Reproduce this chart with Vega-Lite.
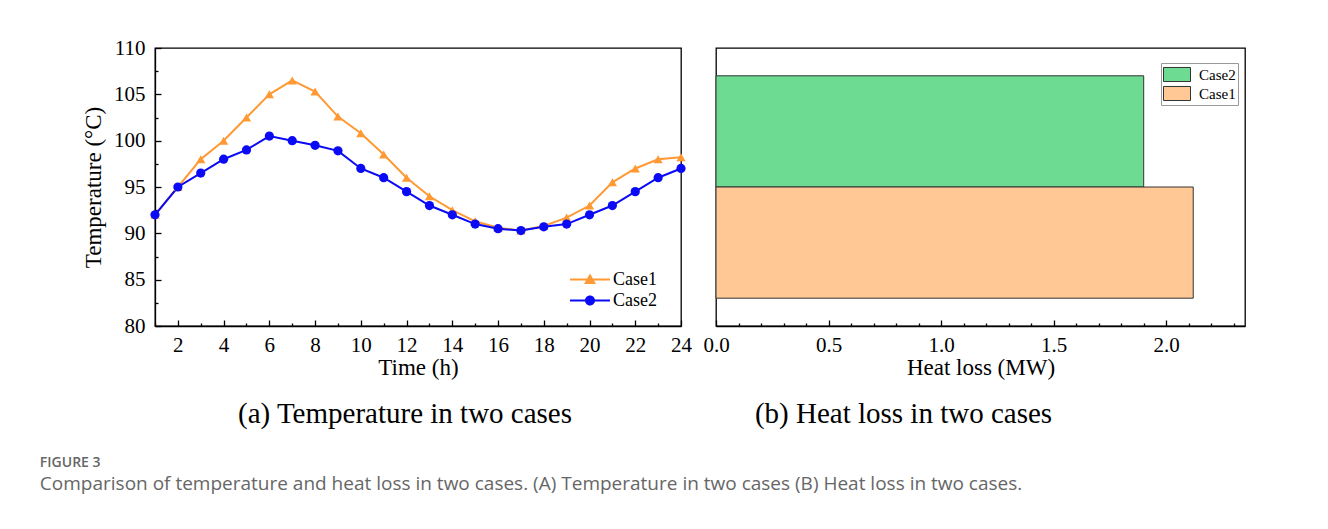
{
  "$schema": "https://vega.github.io/schema/vega-lite/v6.json",
  "background": "white",
  "padding": {"left": 39, "top": 36, "right": 0, "bottom": 0},
  "bounds": "flush",
  "spacing": 35,
  "resolve": {"scale": {"color": "independent", "shape": "independent"}, "legend": {"color": "independent", "shape": "independent"}},
  "datasets": {
    "temps": [
      {"t": 1, "case": "Case1", "temp": 92}, {"t": 2, "case": "Case1", "temp": 95}, {"t": 3, "case": "Case1", "temp": 98},
      {"t": 4, "case": "Case1", "temp": 100}, {"t": 5, "case": "Case1", "temp": 102.5}, {"t": 6, "case": "Case1", "temp": 105},
      {"t": 7, "case": "Case1", "temp": 106.5}, {"t": 8, "case": "Case1", "temp": 105.3}, {"t": 9, "case": "Case1", "temp": 102.6},
      {"t": 10, "case": "Case1", "temp": 100.8}, {"t": 11, "case": "Case1", "temp": 98.5}, {"t": 12, "case": "Case1", "temp": 96},
      {"t": 13, "case": "Case1", "temp": 94}, {"t": 14, "case": "Case1", "temp": 92.5}, {"t": 15, "case": "Case1", "temp": 91.3},
      {"t": 16, "case": "Case1", "temp": 90.6}, {"t": 17, "case": "Case1", "temp": 90.3}, {"t": 18, "case": "Case1", "temp": 90.8},
      {"t": 19, "case": "Case1", "temp": 91.7}, {"t": 20, "case": "Case1", "temp": 93}, {"t": 21, "case": "Case1", "temp": 95.5},
      {"t": 22, "case": "Case1", "temp": 97}, {"t": 23, "case": "Case1", "temp": 98}, {"t": 24, "case": "Case1", "temp": 98.2},
      {"t": 1, "case": "Case2", "temp": 92}, {"t": 2, "case": "Case2", "temp": 95}, {"t": 3, "case": "Case2", "temp": 96.5},
      {"t": 4, "case": "Case2", "temp": 98}, {"t": 5, "case": "Case2", "temp": 99}, {"t": 6, "case": "Case2", "temp": 100.5},
      {"t": 7, "case": "Case2", "temp": 100}, {"t": 8, "case": "Case2", "temp": 99.5}, {"t": 9, "case": "Case2", "temp": 98.9},
      {"t": 10, "case": "Case2", "temp": 97}, {"t": 11, "case": "Case2", "temp": 96}, {"t": 12, "case": "Case2", "temp": 94.5},
      {"t": 13, "case": "Case2", "temp": 93}, {"t": 14, "case": "Case2", "temp": 92}, {"t": 15, "case": "Case2", "temp": 91},
      {"t": 16, "case": "Case2", "temp": 90.5}, {"t": 17, "case": "Case2", "temp": 90.3}, {"t": 18, "case": "Case2", "temp": 90.7},
      {"t": 19, "case": "Case2", "temp": 91}, {"t": 20, "case": "Case2", "temp": 92}, {"t": 21, "case": "Case2", "temp": 93},
      {"t": 22, "case": "Case2", "temp": 94.5}, {"t": 23, "case": "Case2", "temp": 96}, {"t": 24, "case": "Case2", "temp": 97}
    ],
    "heat": [
      {"case": "Case2", "loss": 1.9},
      {"case": "Case1", "loss": 2.12}
    ]
  },
  "title": {
    "text": "FIGURE 3",
    "subtitle": "Comparison of temperature and heat loss in two cases. (A) Temperature in two cases (B) Heat loss in two cases.",
    "orient": "bottom",
    "anchor": "start",
    "font": "Open Sans",
    "fontSize": 14,
    "fontWeight": 600,
    "color": "#666666",
    "subtitleFont": "Open Sans",
    "subtitleFontSize": 19,
    "subtitleColor": "#666666",
    "subtitlePadding": 5,
    "offset": 26,
    "dx": -42,
    "limit": 0
  },
  "hconcat": [
    {
      "width": 526,
      "height": 278,
      "title": {"text": "(a) Temperature in two cases", "orient": "bottom", "fontSize": 29, "fontWeight": "normal", "font": "Liberation Serif", "color": "#000", "offset": 21, "dx": -13},
      "data": {"name": "temps"},
      "layer": [
        {
          "transform": [{"filter": "datum.case === 'Case1'"}],
          "mark": {"type": "line", "strokeWidth": 2, "color": "#FF9933"},
          "encoding": {
            "x": {"field": "t", "type": "quantitative", "scale": {"domain": [1, 24], "nice": false, "zero": false},
                  "axis": {"orient": "bottom", "values": [2, 4, 6, 8, 10, 12, 14, 16, 18, 20, 22, 24], "title": "Time (h)", "tickSize": -6, "labelPadding": 14, "titlePadding": 1}},
            "y": {"field": "temp", "type": "quantitative", "scale": {"domain": [80, 110], "nice": false, "zero": false},
                  "axis": {"orient": "left", "values": [80, 85, 90, 95, 100, 105, 110], "title": "Temperature (°C)", "tickSize": -6, "labelPadding": 16, "titlePadding": 8}}
          }
        },
        {
          "transform": [{"filter": "datum.case === 'Case2'"}],
          "mark": {"type": "line", "strokeWidth": 2, "color": "#0A0AF5"},
          "encoding": {
            "x": {"field": "t", "type": "quantitative", "axis": null},
            "y": {"field": "temp", "type": "quantitative", "axis": null}
          }
        },
        {
          "transform": [{"filter": "datum.case === 'Case1'"}],
          "mark": {"type": "point", "filled": true, "size": 85, "opacity": 1, "shape": "triangle-up", "color": "#FF9933"},
          "encoding": {
            "x": {"field": "t", "type": "quantitative",
                  "axis": {"orient": "bottom", "values": [1, 3, 5, 7, 9, 11, 13, 15, 17, 19, 21, 23], "labels": false, "title": null, "domain": false, "tickSize": -3}},
            "y": {"field": "temp", "type": "quantitative",
                  "axis": {"orient": "left", "values": [82.5, 87.5, 92.5, 97.5, 102.5, 107.5], "labels": false, "title": null, "domain": false, "tickSize": -3}}
          }
        },
        {
          "transform": [{"filter": "datum.case === 'Case2'"}],
          "mark": {"type": "point", "filled": true, "size": 85, "opacity": 1, "shape": "circle", "color": "#0A0AF5"},
          "encoding": {
            "x": {"field": "t", "type": "quantitative", "axis": null},
            "y": {"field": "temp", "type": "quantitative", "axis": null}
          }
        },
        {
          "mark": {"type": "point", "filled": true, "size": 0, "opacity": 1},
          "encoding": {
            "x": {"field": "t", "type": "quantitative", "axis": null},
            "y": {"field": "temp", "type": "quantitative", "axis": null},
            "color": {"field": "case", "type": "nominal", "scale": {"domain": ["Case1", "Case2"], "range": ["#FF9933", "#0A0AF5"]},
                      "legend": {
                        "title": null, "orient": "none", "legendX": 414, "legendY": 221,
                        "symbolSize": 1600, "clipHeight": 21, "rowPadding": 0, "labelOffset": 2, "symbolOpacity": 1,
                        "labelFontSize": 18, "labelFont": "Liberation Serif", "labelColor": "#000"
                      }},
            "shape": {"field": "case", "type": "nominal",
                      "scale": {"domain": ["Case1", "Case2"], "range": ["M-1,-0.05H1V0.05H-1ZM0,-0.3L0.3,0.22L-0.3,0.22Z", "M-1,-0.05H1V0.05H-1ZM-0.25,0A0.25,0.25 0 1,1 0.25,0A0.25,0.25 0 1,1 -0.25,0Z"]},
                      "legend": null}
          }
        }
      ],
      "resolve": {"axis": {"x": "independent", "y": "independent"}}
    },
    {
      "width": 529,
      "height": 278,
      "title": {"text": "(b) Heat loss in two cases", "orient": "bottom", "fontSize": 29, "fontWeight": "normal", "font": "Liberation Serif", "color": "#000", "offset": 21, "dx": -77},
      "data": {"name": "heat"},
      "layer": [
        {
          "mark": {"type": "bar", "stroke": "#333333", "strokeWidth": 1},
          "encoding": {
            "x": {"field": "loss", "type": "quantitative", "scale": {"domain": [0, 2.35], "nice": false},
                  "axis": {"orient": "bottom", "values": [0, 0.5, 1, 1.5, 2], "format": ".1f", "title": "Heat loss (MW)", "tickSize": -6, "labelPadding": 14, "titlePadding": 1}},
            "y": {"field": "case", "type": "nominal", "sort": ["Case2", "Case1"], "scale": {"domain": ["Case2", "Case1"], "paddingInner": 0, "paddingOuter": 0.25}, "axis": null},
            "color": {"field": "case", "type": "nominal", "scale": {"domain": ["Case2", "Case1"], "range": ["#6DDC92", "#FFC894"]},
                      "legend": {
                        "title": null, "orient": "none", "legendX": 445, "legendY": 15,
                        "strokeColor": "#999999", "padding": 2,
                        "symbolType": "M-1,-0.52H1V0.52H-1Z", "symbolSize": 729, "clipHeight": 19, "rowPadding": 0,
                        "symbolStrokeColor": "#333333", "symbolStrokeWidth": 1, "symbolOpacity": 1,
                        "labelOffset": 8, "labelFontSize": 15, "labelFont": "Liberation Serif", "labelColor": "#000"
                      }}
          }
        },
        {
          "mark": {"type": "rule", "opacity": 0},
          "encoding": {
            "x": {"field": "loss", "type": "quantitative",
                  "axis": {"orient": "bottom", "values": [0.1, 0.2, 0.3, 0.4, 0.6, 0.7, 0.8, 0.9, 1.1, 1.2, 1.3, 1.4, 1.6, 1.7, 1.8, 1.9, 2.1, 2.2, 2.3], "labels": false, "title": null, "domain": false, "tickSize": -3}}
          }
        }
      ],
      "resolve": {"axis": {"x": "independent"}}
    }
  ],
  "config": {
    "font": "Liberation Serif",
    "view": {"stroke": "#000000", "strokeWidth": 1.3},
    "axis": {
      "grid": false, "domainColor": "#000", "tickColor": "#000", "labelColor": "#000", "titleColor": "#000",
      "labelFont": "Liberation Serif", "titleFont": "Liberation Serif", "labelFontSize": 21, "titleFontSize": 23,
      "titleFontWeight": "normal", "domainWidth": 1.3, "tickWidth": 1.3, "labelFlush": false
    }
  }
}
